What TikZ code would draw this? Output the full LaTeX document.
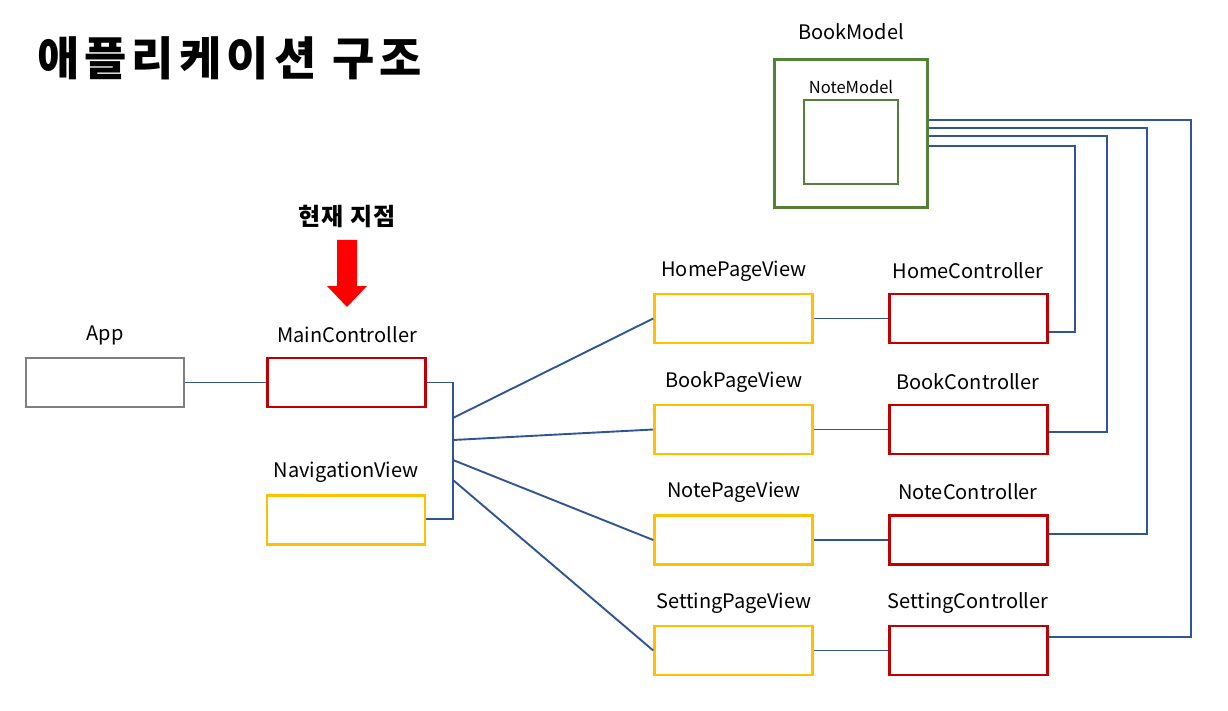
\documentclass[tikz,border=0pt]{standalone}
\usepackage{fontspec}
\setmainfont{Noto Sans CJK KR}
\usetikzlibrary{calc}
\definecolor{cblue}{HTML}{2F5597}
\definecolor{cred}{HTML}{C00000}
\definecolor{cyel}{HTML}{FFC000}
\definecolor{cgray}{HTML}{7F7F7F}
\definecolor{cgreen}{HTML}{538135}
\begin{document}
\begin{tikzpicture}[x=1pt,y=-1pt,
  box/.style={draw, line width=2.6pt, minimum width=158pt, minimum height=49pt, inner sep=0pt, fill=white},
  ctrl/.style={box, draw=cred},
  view/.style={box, draw=cyel},
  lbl/.style={font=\fontsize{20}{22}\selectfont, inner sep=0pt, anchor=center},
  conn/.style={draw=cblue, line width=1.9pt}]
\useasboundingbox (0,0) rectangle (1228,711);
% title
\node[font=\fontsize{46}{50}\selectfont\bfseries\addfontfeatures{LetterSpace=11}, anchor=west, inner sep=0pt] (title) at (37,58) {애플리케이션 구조};
\node[font=\fontsize{24}{26}\selectfont\bfseries\addfontfeatures{LetterSpace=5}, inner sep=0pt] (cur) at (347,216) {현재 지점};
% red arrow
\fill[red] (337,240) -- (357,240) -- (357,286) -- (367,286) -- (347,307) -- (327,286) -- (337,286) -- cycle;
% boxes
\node[box, draw=cgray] (App) at (105,382.5) {};
\node[ctrl] (MainController) at (346.5,382.5) {};
\node[view] (NavigationView) at (346,520) {};
\node[view] (HomePageView) at (733.5,318.5) {};
\node[ctrl] (HomeController) at (968.5,318.5) {};
\node[view] (BookPageView) at (733.5,429.5) {};
\node[ctrl] (BookController) at (968.5,429.5) {};
\node[view] (NotePageView) at (733.5,540) {};
\node[ctrl] (NoteController) at (968.5,540) {};
\node[view] (SettingPageView) at (733.5,650.5) {};
\node[ctrl] (SettingController) at (968.5,650.5) {};
\node[draw=cgreen, line width=2.6pt, minimum width=153pt, minimum height=148pt, inner sep=0pt] (BookModel) at (851,133.5) {};
\node[draw=cgreen, line width=2.6pt, minimum width=94pt, minimum height=84pt, inner sep=0pt] (NoteModel) at (851,142) {};
% labels
\node[lbl] (lApp) at (105,335) {App};
\node[lbl] (lMain) at (347,335) {MainController};
\node[lbl] (lNav) at (346,472) {NavigationView};
\node[lbl] (lHPV) at (734,271) {HomePageView};
\node[lbl] (lHC) at (968,271) {HomeController};
\node[lbl] (lBPV) at (734,382) {BookPageView};
\node[lbl] (lBC) at (968,382) {BookController};
\node[lbl] (lNPV) at (734,492) {NotePageView};
\node[lbl] (lNC) at (968,492) {NoteController};
\node[lbl] (lSPV) at (734,603) {SettingPageView};
\node[lbl] (lSC) at (968,603) {SettingController};
\node[lbl] (lBM) at (851,32) {BookModel};
\node[lbl, font=\fontsize{16.5}{18}\selectfont] (lNM) at (851,87) {NoteModel};
% connectors
\draw[conn] (App.east) -- (MainController.west);
\coordinate (b1) at (453,418);
\coordinate (b2) at (453,440);
\coordinate (b3) at (453,460);
\coordinate (b4) at (453,480);
\draw[conn] (MainController.east) -| (453,519) -- (NavigationView.east |- 0,519);
\draw[conn] (b1) -- (HomePageView.west);
\draw[conn] (b2) -- (BookPageView.west);
\draw[conn] (b3) -- (NotePageView.west);
\draw[conn] (b4) -- (SettingPageView.west);
\draw[conn] (HomePageView.east) -- (HomeController.west);
\draw[conn] (BookPageView.east) -- (BookController.west);
\draw[conn] (NotePageView.east) -- (NoteController.west);
\draw[conn] (SettingPageView.east) -- (SettingController.west);
\draw[conn] ([yshift=-13.5pt]HomeController.east) -| (1075,146) -- ([yshift=-12.5pt]BookModel.east);
\draw[conn] ([yshift=-2.5pt]BookController.east) -| (1107,136) -- ([yshift=-2.5pt]BookModel.east);
\draw[conn] ([yshift=6pt]NoteController.east) -| (1147,128) -- ([yshift=5.5pt]BookModel.east);
\draw[conn] ([yshift=13.5pt]SettingController.east) -| (1191,120) -- ([yshift=13.5pt]BookModel.east);
\end{tikzpicture}
\end{document}
